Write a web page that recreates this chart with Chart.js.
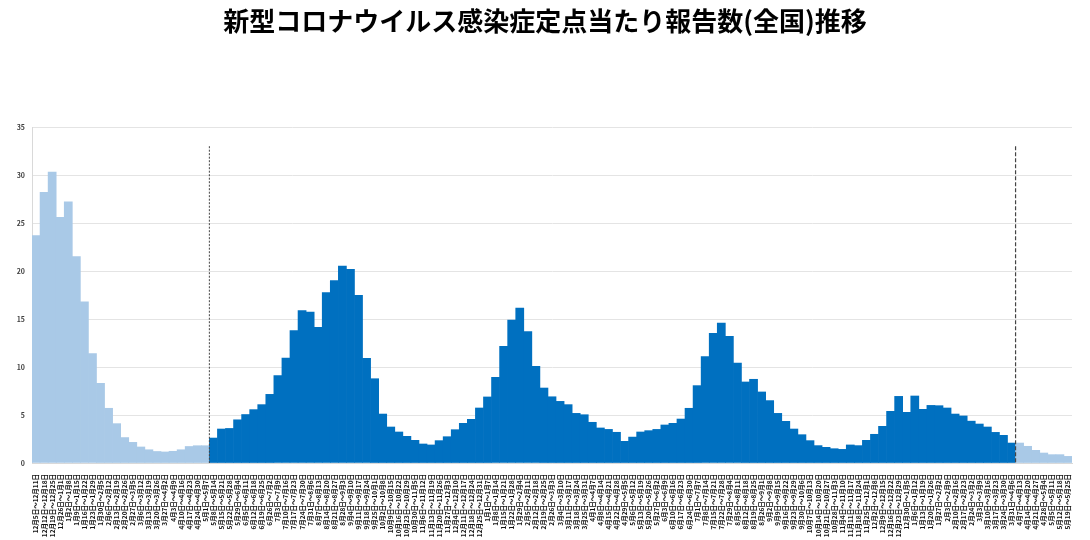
<!DOCTYPE html>
<html>
<head>
<meta charset="utf-8">
<script src="https://cdn.jsdelivr.net/npm/chart.js@4/dist/chart.umd.min.js"></script>
<style>
html,body{margin:0;padding:0;background:#fff;}
#wrap{width:1090px;height:540px;position:relative;}
</style>
</head>
<body>
<div id="wrap"><canvas id="c" width="1090" height="540"></canvas></div>
<script>
const chartTitle = "新型コロナウイルス感染症定点当たり報告数(全国)推移";

const weekLabels = [
"12月5日～12月11日","12月12日～12月18日","12月19日～12月25日","12月26日～1月1日",
"1月2日～1月8日","1月9日～1月15日","1月16日～1月22日","1月23日～1月29日","1月30日～2月5日","2月6日～2月12日","2月13日～2月19日","2月20日～2月26日","2月27日～3月5日","3月6日～3月12日","3月13日～3月19日","3月20日～3月26日","3月27日～4月2日","4月3日～4月9日","4月10日～4月16日","4月17日～4月23日","4月24日～4月30日","5月1日～5月7日","5月8日～5月14日","5月15日～5月21日","5月22日～5月28日","5月29日～6月4日","6月5日～6月11日","6月12日～6月18日","6月19日～6月25日","6月26日～7月2日","7月3日～7月9日","7月10日～7月16日","7月17日～7月23日","7月24日～7月30日","7月31日～8月6日","8月7日～8月13日","8月14日～8月20日","8月21日～8月27日","8月28日～9月3日","9月4日～9月10日","9月11日～9月17日","9月18日～9月24日","9月25日～10月1日","10月2日～10月8日","10月9日～10月15日","10月16日～10月22日","10月23日～10月29日","10月30日～11月5日","11月6日～11月12日","11月13日～11月19日","11月20日～11月26日","11月27日～12月3日","12月4日～12月10日","12月11日～12月17日","12月18日～12月24日","12月25日～12月31日",
"1月1日～1月7日","1月8日～1月14日","1月15日～1月21日","1月22日～1月28日","1月29日～2月4日","2月5日～2月11日","2月12日～2月18日","2月19日～2月25日","2月26日～3月3日","3月4日～3月10日","3月11日～3月17日","3月18日～3月24日","3月25日～3月31日","4月1日～4月7日","4月8日～4月14日","4月15日～4月21日","4月22日～4月28日","4月29日～5月5日","5月6日～5月12日","5月13日～5月19日","5月20日～5月26日","5月27日～6月2日","6月3日～6月9日","6月10日～6月16日","6月17日～6月23日","6月24日～6月30日","7月1日～7月7日","7月8日～7月14日","7月15日～7月21日","7月22日～7月28日","7月29日～8月4日","8月5日～8月11日","8月12日～8月18日","8月19日～8月25日","8月26日～9月1日","9月2日～9月8日","9月9日～9月15日","9月16日～9月22日","9月23日～9月29日","9月30日～10月6日","10月7日～10月13日","10月14日～10月20日","10月21日～10月27日","10月28日～11月3日","11月4日～11月10日","11月11日～11月17日","11月18日～11月24日","11月25日～12月1日","12月2日～12月8日","12月9日～12月15日","12月16日～12月22日","12月23日～12月29日","12月30日～1月5日",
"1月6日～1月12日","1月13日～1月19日","1月20日～1月26日","1月27日～2月2日","2月3日～2月9日","2月10日～2月16日","2月17日～2月23日","2月24日～3月2日","3月3日～3月9日","3月10日～3月16日","3月17日～3月23日","3月24日～3月30日","3月31日～4月6日","4月7日～4月13日","4月14日～4月20日","4月21日～4月27日","4月28日～5月4日","5月5日～5月11日","5月12日～5月18日","5月19日～5月25日"
];

// 定点当たり報告数
const reportValues = [
23.7,28.2,30.3,25.6,27.2,21.5,16.8,11.4,8.3,5.7,4.1,2.65,2.15,1.67,1.38,1.2,1.15,1.22,1.38,1.72,1.8,1.8,
2.6,3.54,3.6,4.5,5.05,5.56,6.08,7.15,9.1,10.94,13.8,15.87,15.73,14.13,17.74,19.0,20.5,20.17,17.47,10.9,8.78,5.1,3.75,3.23,2.78,2.36,1.98,1.88,2.33,2.74,3.47,4.13,4.55,5.73,
6.88,8.92,12.15,14.9,16.15,13.7,10.07,7.81,6.9,6.42,6.08,5.17,5.03,4.24,3.65,3.5,3.2,2.26,2.7,3.23,3.37,3.5,3.96,4.13,4.58,5.7,8.06,11.08,13.5,14.58,13.2,10.42,8.44,8.72,7.4,6.5,5.17,4.34,3.54,2.95,2.33,1.81,1.63,1.49,1.42,1.88,1.81,2.36,2.99,3.82,5.38,6.94,5.28,
6.98,5.59,6.0,5.97,5.73,5.1,4.9,4.36,4.06,3.75,3.19,2.88,2.08,2.08,1.74,1.32,1.04,0.87,0.87,0.69
];

// 区切り: 5類移行 (5月8日～) と ARI移行 (4月7日～)
const sentinelStartLabel = "5月8日～5月14日";
const ariWeeks = 7; // last 7 weeks (4月7日～) are light
const yTicks = [0,5,10,15,20,25,30,35];
const dividerTopValue = 33;

const darkColor = "#0070C0";
const lightColor = "#A9C9E7";

const sentinelStart = weekLabels.indexOf(sentinelStartLabel);
const ariStart = weekLabels.length - ariWeeks;
const barColors = reportValues.map((v,i) => (i >= sentinelStart && i < ariStart) ? darkColor : lightColor);

const dividerPlugin = {
  id: 'dividers',
  afterDatasetsDraw(chart) {
    const xs = chart.scales.x, ys = chart.scales.y, ctx = chart.ctx;
    const yTop = ys.getPixelForValue(dividerTopValue);
    const yBot = ys.getPixelForValue(0);
    const draw = (idx, dash, w) => {
      const x = (xs.getPixelForValue(idx - 1) + xs.getPixelForValue(idx)) / 2;
      ctx.save();
      ctx.strokeStyle = "#444";
      ctx.lineWidth = w;
      ctx.setLineDash(dash);
      ctx.beginPath();
      ctx.moveTo(x, yTop);
      ctx.lineTo(x, yBot);
      ctx.stroke();
      ctx.restore();
    };
    draw(sentinelStart, [2, 1.5], 1);
    draw(ariStart, [4, 2], 1.2);
  }
};

const titlePlugin = {
  id: 'pageTitle',
  afterDraw(chart) {
    const ctx = chart.ctx;
    ctx.save();
    ctx.fillStyle = '#000';
    ctx.font = 'bold 26px "Noto Sans CJK JP"';
    ctx.textAlign = 'center';
    ctx.textBaseline = 'middle';
    ctx.fillText(chartTitle, chart.width / 2, 21);
    ctx.restore();
  }
};

new Chart(document.getElementById('c'), {
  type: 'bar',
  data: {
    labels: weekLabels,
    datasets: [{
      data: reportValues,
      backgroundColor: barColors,
      borderWidth: 0,
      categoryPercentage: 1.0,
      barPercentage: 1.0
    }]
  },
  options: {
    responsive: false,
    animation: false,
    devicePixelRatio: 1,
    layout: { padding: { left: 0, right: 18, top: 127, bottom: 0 } },
    plugins: {
      legend: { display: false },
      tooltip: { enabled: false },
      title: { display: false }
    },
    scales: {
      x: {
        grid: { display: false },
        border: { display: true, color: '#d9d9d9' },
        ticks: {
          autoSkip: false,
          maxRotation: 90,
          minRotation: 90,
          padding: 3,
          color: '#111',
          font: { family: '"Noto Sans CJK JP"', size: 6.5, weight: 'bold' }
        },
        afterFit(s) { s.height = 77; }
      },
      y: {
        min: 0,
        max: 35,
        afterBuildTicks(s) { s.ticks = yTicks.map(v => ({ value: v })); },
        grid: { color: '#e4e4e4', lineWidth: 1, drawTicks: false },
        border: { display: true, color: '#d9d9d9' },
        ticks: {
          padding: 7,
          color: '#404040',
          font: { family: '"Noto Sans CJK JP"', size: 7, weight: 'bold' }
        },
        afterFit(s) { s.width = 32; }
      }
    }
  },
  plugins: [dividerPlugin, titlePlugin]
});
</script>
</body>
</html>
